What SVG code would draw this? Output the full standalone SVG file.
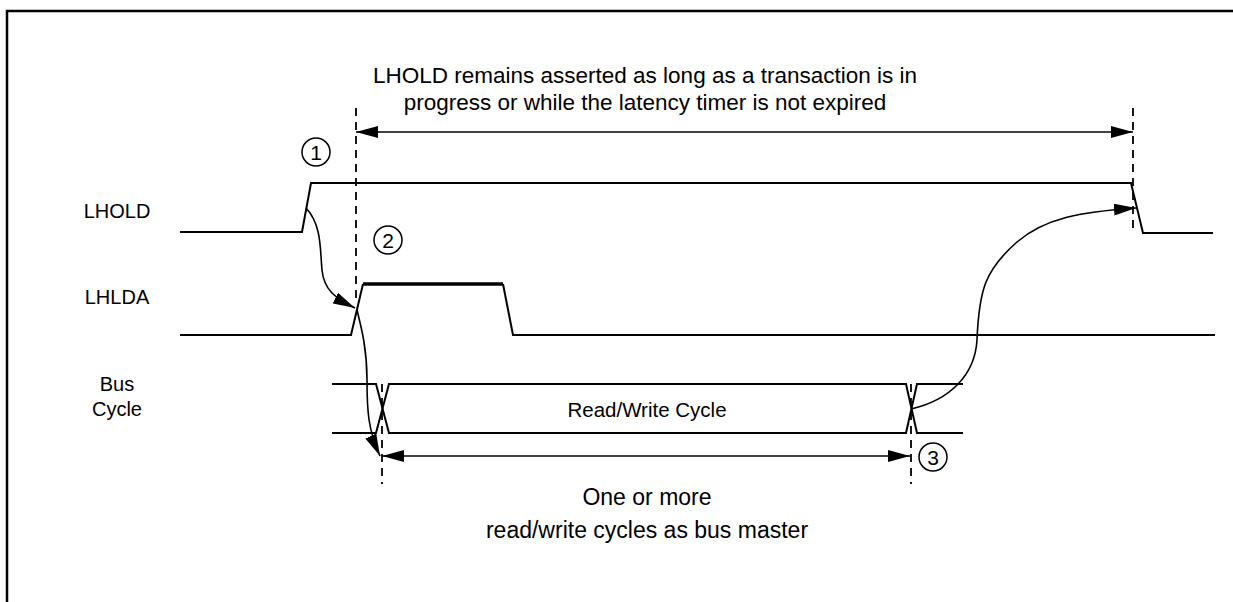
<svg xmlns="http://www.w3.org/2000/svg" width="1233" height="602" viewBox="0 0 1233 602">
<defs>
<style>
.t{font-family:"Liberation Sans",Arial,sans-serif;fill:#000}
.sig{fill:none;stroke:#000;stroke-width:2}
.dash{fill:none;stroke:#000;stroke-width:1.8;stroke-dasharray:8,6}
.conn{fill:none;stroke:#000;stroke-width:1.6}
.circ{fill:#fff;stroke:#000;stroke-width:1.5}
</style>
<marker id="ah" viewBox="0 0 22 12" refX="22" refY="6" markerWidth="22" markerHeight="12" markerUnits="userSpaceOnUse" orient="auto-start-reverse">
<path d="M0,0 L22,6 L0,12 z" fill="#000"/>
</marker>
</defs>
<rect width="1233" height="602" fill="#fff"/>
<g id="frame">
<path d="M7,602 V11 H1233" fill="none" stroke="#000" stroke-width="2.5"/>
</g>
<g id="title">
<text class="t" x="645" y="83" font-size="22.5" text-anchor="middle">LHOLD remains asserted as long as a transaction is in</text>
<text class="t" x="645" y="110" font-size="22.5" text-anchor="middle">progress or while the latency timer is not expired</text>
</g>
<g id="labels">
<text class="t" x="117" y="218" font-size="20" text-anchor="middle">LHOLD</text>
<text class="t" x="117" y="304" font-size="20" text-anchor="middle">LHLDA</text>
<text class="t" x="117" y="391" font-size="20" text-anchor="middle">Bus</text>
<text class="t" x="117" y="416" font-size="20" text-anchor="middle">Cycle</text>
</g>
<g id="lhold">
<path class="sig" d="M180,232 H302 L311,183 H1131 L1143,233 H1213"/>
</g>
<g id="lhlda">
<path class="sig" d="M180,335 H351 L363,284"/>
<path d="M363,284 H503" fill="none" stroke="#000" stroke-width="3.5"/>
<path class="sig" d="M503,284 L513,335 H1215"/>
</g>
<g id="buscycle">
<path class="sig" d="M332,384 H376 L389,433 H906 L917,384 H963"/>
<path class="sig" d="M332,433 H376 L389,384 H906 L917,433 H963"/>
<text class="t" x="647" y="417" font-size="20.5" text-anchor="middle">Read/Write Cycle</text>
</g>
<g id="markers">
<circle class="circ" cx="316" cy="152" r="14"/>
<text class="t" x="316" y="160" font-size="21" text-anchor="middle">1</text>
<circle class="circ" cx="388" cy="240" r="14"/>
<text class="t" x="388" y="248" font-size="21" text-anchor="middle">2</text>
<circle class="circ" cx="933" cy="457" r="14"/>
<text class="t" x="933" y="465" font-size="21" text-anchor="middle">3</text>
</g>
<g id="bottom-note">
<text class="t" x="647" y="505" font-size="23" text-anchor="middle">One or more</text>
<text class="t" x="647" y="538" font-size="23" text-anchor="middle">read/write cycles as bus master</text>
</g>
<g id="connectors">
<line class="dash" x1="356" y1="108" x2="356" y2="300"/>
<line class="dash" x1="1133" y1="108" x2="1133" y2="232"/>
<line class="dash" x1="382" y1="384" x2="382" y2="484"/>
<line class="dash" x1="911" y1="384" x2="911" y2="484"/>
<line class="conn" x1="356" y1="132" x2="1133" y2="132" marker-start="url(#ah)" marker-end="url(#ah)"/>
<line class="conn" x1="382" y1="456" x2="910" y2="456" marker-start="url(#ah)" marker-end="url(#ah)"/>
<path class="conn" d="M306,208 C322,225 320,250 322,270 C324,290 335,298 355,308" marker-end="url(#ah)"/>
<path class="conn" d="M357,310 C362,330 367,350 367,380 C367,410 368,430 380,456" marker-end="url(#ah)"/>
<path class="conn" d="M911,409 C950,400 975,375 977,340 C979,290 985,270 1017,242 C1045,218 1080,212 1136,208" marker-end="url(#ah)"/>
</g>
</svg>
